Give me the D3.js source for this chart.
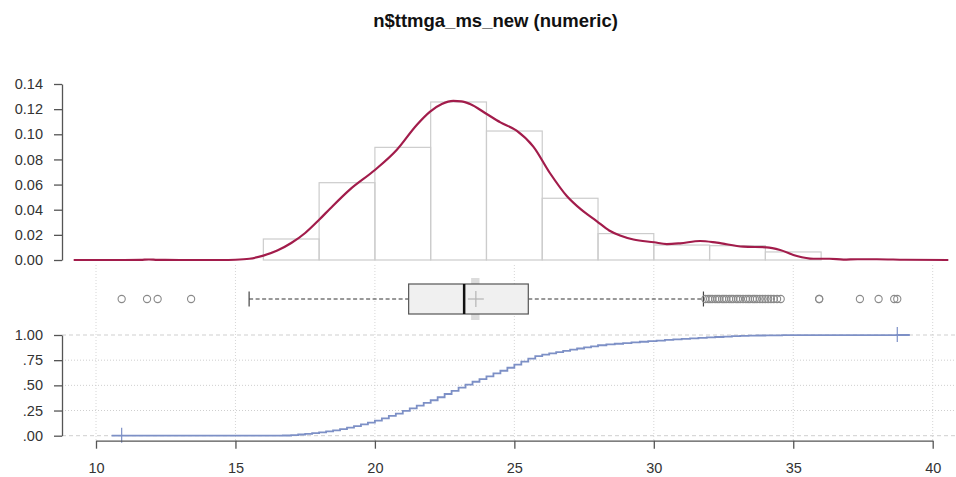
<!DOCTYPE html>
<html>
<head>
<meta charset="utf-8">
<script src="https://cdn.jsdelivr.net/npm/d3@7"></script>
<style>
  body { margin: 0; background: #fff; }
  svg { display: block; font-family: "Liberation Sans", Arial, sans-serif; }
</style>
</head>
<body>
<div id="chart"></div>
<script>
/*---------------- Data ----------------*/

const title = 'n$ttmga_ms_new (numeric)';

// Histogram bins (left edge, right edge, density)
const binStart = [16, 18, 20, 22, 24, 26, 28, 30, 32, 34];
const binEnd = [18, 20, 22, 24, 26, 28, 30, 32, 34, 36];
const binDensity = [0.0167, 0.0615, 0.0896, 0.1257, 0.1026, 0.0491, 0.0210, 0.0119, 0.0114, 0.0064];

// Kernel density curve
const densX = [9.2, 11.0, 11.6, 11.9, 12.2, 13.0, 14.5, 15.0, 15.5, 16.0, 16.5, 17.0, 17.5, 18.0,
               18.4, 19.1, 20.0, 20.78, 21.5, 21.98, 22.4, 22.81, 23.1, 23.41, 24.01, 24.5, 25.08,
               25.68, 26.28, 26.88, 27.4, 27.95, 28.4, 28.79, 29.27, 30.01, 30.47, 30.94, 31.66,
               32.26, 33.21, 34.05, 34.53, 35.13, 35.72, 36.3, 36.8, 37.3, 38.0, 39.0, 40.56];
const densY = [0, 0, 0.0001, 0.0004, 0.0001, 0, 0, 0.0002, 0.0010, 0.0035, 0.0075, 0.0135, 0.0215, 0.0320,
               0.0410, 0.0560, 0.0716, 0.0875, 0.1074, 0.1180, 0.1240, 0.1265, 0.1262, 0.1241, 0.1161, 0.1095, 0.1029,
               0.0902, 0.0690, 0.0509, 0.0400, 0.0310, 0.0235, 0.0195, 0.0163, 0.0141, 0.0127, 0.0133, 0.0151,
               0.0138, 0.0106, 0.0101, 0.0080, 0.0032, 0.0010, 0.0010, 0.0003, 0.0006, 0.0006, 0.0002, 0];

// Box plot statistics: lower whisker, Q1, median, Q3, upper whisker, mean
const boxStats = [15.49, 21.21, 23.2, 25.5, 31.78, 23.62];
const meanCI = [23.45, 23.75];
const outliers = [10.92, 11.83, 12.21, 13.41,
                  31.85, 31.95, 32.02, 32.1, 32.2, 32.28, 32.35, 32.45, 32.52, 32.6, 32.7, 32.78,
                  32.85, 32.95, 33.02, 33.1, 33.2, 33.3, 33.38, 33.45, 33.55, 33.62, 33.7, 33.8,
                  33.9, 34.0, 34.1, 34.2, 34.3, 34.42, 34.55,
                  35.93, 35.93, 37.39, 38.06, 38.62, 38.73];

// Empirical CDF (x, cumulative share)
const ecdfX = [10.56, 10.92, 16.7, 17.0, 17.25, 17.5, 17.75, 18.0, 18.25, 18.5, 18.75, 19.0, 19.25, 19.5,
               19.75, 20.0, 20.25, 20.5, 20.75, 21.0, 21.25, 21.5, 21.75, 22.0, 22.25, 22.5, 22.75, 23.0,
               23.25, 23.5, 23.75, 24.0, 24.25, 24.5, 24.75, 25.0, 25.25, 25.5, 25.75, 26.0, 26.25, 26.5,
               26.75, 27.0, 27.25, 27.5, 27.75, 28.0, 28.3, 28.6, 28.9, 29.2, 29.5, 29.8, 30.1, 30.4,
               30.7, 31.0, 31.3, 31.6, 31.9, 32.2, 32.5, 32.8, 33.1, 33.4, 33.7, 34.0, 34.6, 35.9,
               38.73, 39.18];
const ecdfY = [0, 0.001, 0.002, 0.006, 0.012, 0.018, 0.025, 0.033, 0.042, 0.052, 0.065, 0.080, 0.096, 0.112,
               0.130, 0.150, 0.172, 0.196, 0.220, 0.246, 0.272, 0.298, 0.325, 0.352, 0.382, 0.414, 0.445, 0.477,
               0.508, 0.536, 0.562, 0.590, 0.618, 0.645, 0.675, 0.705, 0.735, 0.765, 0.790, 0.806, 0.818, 0.830,
               0.842, 0.854, 0.866, 0.877, 0.888, 0.898, 0.906, 0.913, 0.920, 0.927, 0.933, 0.939, 0.945, 0.951,
               0.957, 0.962, 0.967, 0.972, 0.976, 0.980, 0.984, 0.988, 0.991, 0.993, 0.995, 0.997, 0.998, 0.999,
               1.0, 1.0];

const xTicks = [10, 15, 20, 25, 30, 35, 40];
const densTicks = [0, 0.02, 0.04, 0.06, 0.08, 0.10, 0.12, 0.14];
const cdfTicks = [0, 0.25, 0.5, 0.75, 1];
const cdfLabels = ['.00', '.25', '.50', '.75', '1.00'];

/*---------------- Setup ----------------*/

const width = 956, height = 477;
const axisX = 62;
const fontStack = '"Liberation Sans", Arial, sans-serif';

const svg = d3.select('#chart').append('svg')
    .attr('width', width)
    .attr('height', height);

const x = d3.scaleLinear().domain([10, 40]).range([96, 932.7]);
const yDens = d3.scaleLinear().domain([0, 0.14]).range([260, 84]);
const yCdf = d3.scaleLinear().domain([0, 1]).range([435.7, 335]);
const boxY = 299;

// Title
svg.append('text')
    .attr('x', 495.5).attr('y', 27)
    .attr('text-anchor', 'middle')
    .attr('font-size', 18.5).attr('font-weight', 'bold')
    .attr('fill', '#111')
    .text(title);

/*---------------- Grid (box + ecdf rows) ----------------*/

svg.append('g').selectAll('line')
    .data(xTicks)
    .join('line')
    .attr('x1', d => x(d)).attr('x2', d => x(d))
    .attr('y1', 265).attr('y2', 440)
    .attr('stroke', '#d6d6d6').attr('stroke-dasharray', '1,2');

svg.append('g').selectAll('line')
    .data(cdfTicks)
    .join('line')
    .attr('x1', axisX).attr('x2', width)
    .attr('y1', d => yCdf(d)).attr('y2', d => yCdf(d))
    .attr('stroke', '#cfcfcf')
    .attr('stroke-dasharray', d => (d === 0 || d === 1) ? '4,3' : '1,2');

/*---------------- Histogram + density ----------------*/

svg.append('g').selectAll('rect')
    .data(binStart)
    .join('rect')
    .attr('x', (d, i) => x(d))
    .attr('width', (d, i) => x(binEnd[i]) - x(d))
    .attr('y', (d, i) => yDens(binDensity[i]))
    .attr('height', (d, i) => yDens(0) - yDens(binDensity[i]))
    .attr('fill', 'none')
    .attr('stroke', '#cccccc')
    .attr('stroke-width', 1.2);

const densLine = d3.line()
    .x((d, i) => x(d))
    .y((d, i) => yDens(densY[i]))
    .curve(d3.curveMonotoneX);

svg.append('path')
    .datum(densX)
    .attr('d', densLine)
    .attr('fill', 'none')
    .attr('stroke', '#a21c4b')
    .attr('stroke-width', 2.2);

// Shared axis styling
function styleAxis(g) {
    g.select('.domain').attr('stroke', '#555').attr('stroke-width', 1.3);
    g.selectAll('.tick line').attr('stroke', '#555').attr('stroke-width', 1.3);
    g.selectAll('.tick text').attr('font-size', 14.5).attr('fill', '#333')
        .attr('font-family', fontStack);
}

// Density y axis
const densAxis = d3.axisLeft(yDens)
    .tickValues(densTicks)
    .tickFormat(d3.format('.2f'))
    .tickSize(8)
    .tickSizeOuter(0);

svg.append('g')
    .attr('transform', 'translate(' + axisX + ',0)')
    .call(densAxis)
    .call(styleAxis)
    .call(g => g.selectAll('.tick text').attr('x', -19));

/*---------------- Box plot ----------------*/

const [wLo, q1, med, q3, wHi, mean] = boxStats;

svg.append('line')
    .attr('x1', x(wLo)).attr('x2', x(q1))
    .attr('y1', boxY).attr('y2', boxY)
    .attr('stroke', '#333').attr('stroke-dasharray', '4,2.5');
svg.append('line')
    .attr('x1', x(q3)).attr('x2', x(wHi))
    .attr('y1', boxY).attr('y2', boxY)
    .attr('stroke', '#333').attr('stroke-dasharray', '4,2.5');

[wLo, wHi].forEach(v => {
    svg.append('line')
        .attr('x1', x(v)).attr('x2', x(v))
        .attr('y1', boxY - 7.5).attr('y2', boxY + 7.5)
        .attr('stroke', '#444').attr('stroke-width', 1.2);
});

// Mean confidence band
svg.append('rect')
    .attr('x', x(meanCI[0])).attr('width', x(meanCI[1]) - x(meanCI[0]))
    .attr('y', boxY - 21).attr('height', 42)
    .attr('fill', '#dcdcdc');

svg.append('rect')
    .attr('x', x(q1)).attr('width', x(q3) - x(q1))
    .attr('y', boxY - 15).attr('height', 30)
    .attr('fill', '#f0f0f0')
    .attr('stroke', '#555').attr('stroke-width', 1.2);

svg.append('line')
    .attr('x1', x(med)).attr('x2', x(med))
    .attr('y1', boxY - 15).attr('y2', boxY + 15)
    .attr('stroke', '#111').attr('stroke-width', 2.5);

// Mean marker
svg.append('line')
    .attr('x1', x(mean) - 8).attr('x2', x(mean) + 8)
    .attr('y1', boxY).attr('y2', boxY)
    .attr('stroke', '#b5b5b5').attr('stroke-width', 1.2);
svg.append('line')
    .attr('x1', x(mean)).attr('x2', x(mean))
    .attr('y1', boxY - 8).attr('y2', boxY + 8)
    .attr('stroke', '#b5b5b5').attr('stroke-width', 1.2);

svg.append('g').selectAll('circle')
    .data(outliers)
    .join('circle')
    .attr('cx', d => x(d))
    .attr('cy', boxY)
    .attr('r', 3.6)
    .attr('fill', 'none')
    .attr('stroke', '#8a8a8a')
    .attr('stroke-width', 1.1);

/*---------------- ECDF ----------------*/

const cdfLine = d3.line()
    .x((d, i) => x(d))
    .y((d, i) => yCdf(ecdfY[i]))
    .curve(d3.curveStepAfter);

svg.append('path')
    .datum(ecdfX)
    .attr('d', cdfLine)
    .attr('fill', 'none')
    .attr('stroke', '#7d90c6')
    .attr('stroke-width', 1.8);

// min / max markers
[[outliers[0], 0], [outliers[outliers.length - 1], 1]].forEach(([v, p]) => {
    svg.append('line')
        .attr('x1', x(v)).attr('x2', x(v))
        .attr('y1', yCdf(p) - 8).attr('y2', yCdf(p) + 7)
        .attr('stroke', '#7d90c6').attr('stroke-width', 1.2);
});

const cdfAxis = d3.axisLeft(yCdf)
    .tickValues(cdfTicks)
    .tickFormat((d, i) => cdfLabels[i])
    .tickSize(8)
    .tickSizeOuter(0);

svg.append('g')
    .attr('transform', 'translate(' + axisX + ',0)')
    .call(cdfAxis)
    .call(styleAxis)
    .call(g => g.selectAll('.tick text').attr('x', -19));

const xAxis = d3.axisBottom(x)
    .tickValues(xTicks)
    .tickSize(8)
    .tickSizeOuter(0);

svg.append('g')
    .attr('transform', 'translate(0,440.7)')
    .call(xAxis)
    .call(styleAxis)
    .call(g => g.selectAll('.tick text').attr('y', 22).attr('dy', '0.71em'));
</script>
</body>
</html>
